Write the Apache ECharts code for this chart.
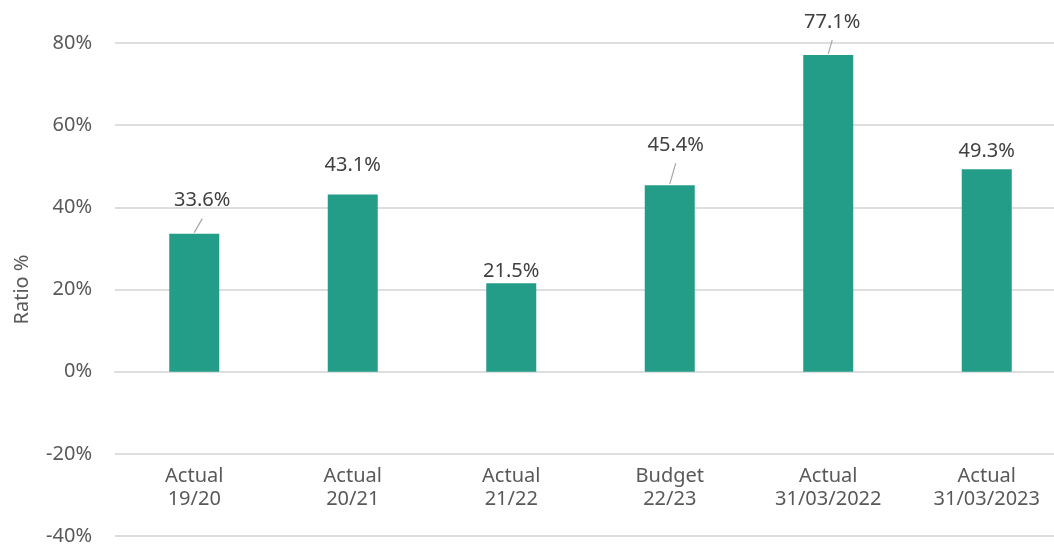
<!DOCTYPE html>
<html>
<head>
<meta charset="utf-8">
<script src="https://cdn.jsdelivr.net/npm/echarts@6/dist/echarts.min.js"></script>
<style>
  html, body { margin: 0; padding: 0; background: #ffffff; }
  #chart { width: 1054px; height: 545px; }
</style>
</head>
<body>
<div id="chart"></div>
<script>
// Periods shown on the category axis
const categories = [
  'Actual\n19/20',
  'Actual\n20/21',
  'Actual\n21/22',
  'Budget\n22/23',
  'Actual\n31/03/2022',
  'Actual\n31/03/2023'
];

// Ratio values in percent
const ratios = [33.6, 43.1, 21.5, 45.4, 77.1, 49.3];

// Y axis scale
const yMin = -40;
const yMax = 80;
const yStep = 20;

// Data label nudges (pixels) and which labels get a leader line
const labelShift = [[8, -21], [0, -17], [0, 0], [6, -28], [4, -21], [0, -6]];
const hasLeader = [true, false, false, true, true, false];

const FONT = '"Noto Sans", "Open Sans", sans-serif';
const BAR_COLOR = '#239C88';
const GRID_COLOR = '#dedede';

const chart = echarts.init(document.getElementById('chart'), null, { renderer: 'canvas' });

chart.setOption({
  animation: false,
  backgroundColor: '#ffffff',
  textStyle: { fontFamily: FONT },
  grid: {
    left: 115, top: 43, width: 951, height: 493,
    containLabel: false,
    outerBoundsMode: 'none'
  },
  xAxis: {
    type: 'category',
    data: categories,
    axisLine: { show: true, onZero: true, lineStyle: { color: GRID_COLOR, width: 2 } },
    axisTick: { show: false },
    axisLabel: {
      margin: -71,
      color: '#595959',
      fontSize: 20,
      lineHeight: 23,
      fontFamily: FONT
    },
    splitLine: { show: false }
  },
  yAxis: {
    type: 'value',
    min: yMin,
    max: yMax,
    interval: yStep,
    name: 'Ratio %',
    nameLocation: 'middle',
    nameRotate: 90,
    nameGap: 83,
    nameTextStyle: { color: '#595959', fontSize: 20, fontFamily: FONT },
    axisLine: { show: false },
    axisTick: { show: false },
    axisLabel: {
      formatter: '{value}%',
      color: '#595959',
      fontSize: 20,
      margin: 23,
      fontFamily: FONT
    },
    splitLine: { show: true, lineStyle: { color: GRID_COLOR, width: 2 } }
  },
  series: [
    {
      type: 'bar',
      data: ratios,
      barWidth: 50,
      itemStyle: { color: BAR_COLOR },
      label: {
        show: true,
        position: 'top',
        distance: 0,
        color: '#404040',
        fontSize: 20,
        lineHeight: 24,
        fontFamily: FONT,
        formatter: (p) => p.value.toFixed(1) + '%'
      },
      labelLayout: (p) => ({ dx: labelShift[p.dataIndex][0], dy: labelShift[p.dataIndex][1] })
    },
    {
      // Leader lines from the bar tops to the moved labels
      type: 'custom',
      data: ratios.map((v, i) => [i, v]),
      silent: true,
      z: 3,
      renderItem: (params, api) => {
        const i = api.value(0);
        if (!hasLeader[i]) return null;
        const p = api.coord([i, api.value(1)]);
        const s = labelShift[i];
        return {
          type: 'line',
          shape: { x1: p[0], y1: p[1] - 1, x2: p[0] + s[0], y2: p[1] + s[1] + 6 },
          style: { stroke: '#a6a6a6', lineWidth: 1.2 }
        };
      }
    }
  ]
});
</script>
</body>
</html>
